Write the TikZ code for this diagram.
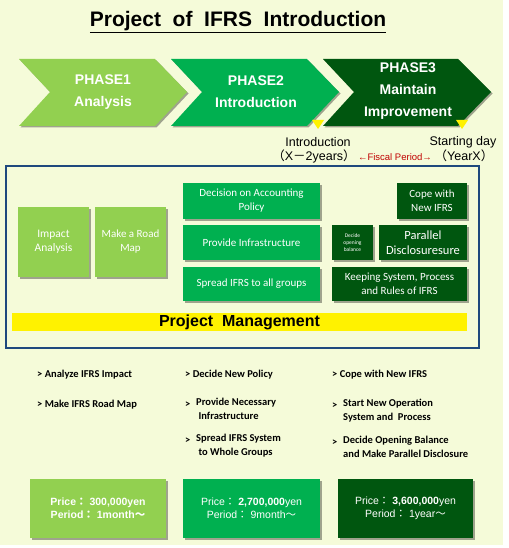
\documentclass[tikz,border=0pt]{standalone}
\usepackage{fontspec}
\setmainfont{Liberation Sans}
\newfontfamily\calfont{Carlito}
\newfontfamily\cjkfont{Noto Sans CJK JP}
\usetikzlibrary{shadows}
\definecolor{bg}{HTML}{F5FBD9}
\definecolor{lg}{HTML}{92D050}
\definecolor{mg}{HTML}{00B050}
\definecolor{dg}{HTML}{00560F}
\definecolor{fr}{HTML}{1F497D}
\definecolor{rd}{HTML}{C00000}
\tikzset{
  sh/.style={drop shadow={shadow xshift=1.5pt, shadow yshift=-1.5pt, fill=black, opacity=0.35}},
  chev/.style={draw=none, sh},
  ptxt/.style={text=white, font=\bfseries\fontsize{14}{22}\selectfont, align=center, inner sep=0},
  box/.style={sh, inner sep=1pt, align=center, text=white, font=\calfont\fontsize{11.5}{14}\selectfont},
  bul/.style={inner sep=0, anchor=west, font=\calfont\bfseries\fontsize{10.5}{14}\selectfont},
  btx/.style={inner sep=0, anchor=north west, align=left, font=\calfont\bfseries\fontsize{10.5}{14}\selectfont},
  lbl/.style={inner sep=0, font=\fontsize{12.5}{14}\selectfont},
  price/.style={sh, inner sep=0, align=center, text=white, font=\fontsize{10.5}{13}\selectfont},
  tri/.style={fill=yellow, draw=none}
}
\begin{document}
\begin{tikzpicture}[x=1pt,y=-1pt]
\useasboundingbox (0,0) rectangle (508,548);
\fill[white] (0,0) rectangle (508,548);
\fill[bg] (0,0) rectangle (503,545);
% title
\node[inner sep=0, font=\bfseries\fontsize{21}{24}\selectfont] (title) at (238,22) {\underline{Project\ \ of\ \ IFRS\ \ Introduction}};
% chevrons
\fill[lg, chev] (19,59) -- (155,59) -- (187,92) -- (155,126) -- (19,126) -- (50,92) -- cycle;
\fill[mg, chev] (171,59) -- (307,59) -- (339,92) -- (307,126) -- (171,126) -- (202,92) -- cycle;
\fill[dg, chev] (323,59) -- (458,59) -- (491,92) -- (458,126) -- (323,126) -- (354,92) -- cycle;
\node[ptxt] (p1) at (103,92) {PHASE1\\Analysis};
\node[ptxt] (p2) at (256,92) {PHASE2\\Introduction};
\node[ptxt] (p3) at (408,91) {PHASE3\\Maintain\\Improvement};
% yellow markers
\fill[tri] (312,120) -- (324,120) -- (318,129) -- cycle;
\fill[tri] (456,120) -- (468,120) -- (462,129) -- cycle;
\node[lbl] (intro) at (318,142) {Introduction};
\node[lbl] (introx) at (314,156) {{\cjkfont （}X{\cjkfont －}2years{\cjkfont ）}};
\node[lbl] (start) at (463,142) {Starting\ day};
\node[lbl] (startx) at (464,156) {{\cjkfont （}YearX{\cjkfont ）}};
\node[inner sep=0, text=rd, font=\fontsize{9.5}{11}\selectfont] (fiscal) at (395,157) {←Fiscal Period→};
% frame
\draw[fr, line width=1.6pt] (6,166) rectangle (479,348);
% boxes
\node[box, fill=lg, minimum width=71pt, minimum height=70pt] (impact) at (53.5,242) {Impact\\Analysis};
\node[box, fill=lg, minimum width=71pt, minimum height=70pt, font=\calfont\fontsize{11}{14}\selectfont] (road) at (130.5,242) {Make a Road\\Map};
\node[box, fill=mg, minimum width=137pt, minimum height=36pt, font=\calfont\fontsize{11}{14}\selectfont] (decision) at (251.5,201) {Decision on Accounting\\Policy};
\node[box, fill=mg, minimum width=137pt, minimum height=35pt, font=\calfont\fontsize{11}{14}\selectfont] (infra) at (251.5,242.5) {Provide Infrastructure};
\node[box, fill=mg, minimum width=137pt, minimum height=34pt, font=\calfont\fontsize{11}{14}\selectfont] (spread) at (251.5,284) {Spread IFRS to all groups};
\node[box, fill=dg, minimum width=70pt, minimum height=36pt, font=\calfont\fontsize{11}{14}\selectfont] (cope) at (432,201) {Cope with\\New\ IFRS};
\node[box, fill=dg, minimum width=41pt, minimum height=35pt, font=\calfont\fontsize{5.5}{7}\selectfont] (open) at (352.5,242.5) {Decide\\opening\\balance};
\node[box, fill=dg, minimum width=88pt, minimum height=35pt, font=\calfont\fontsize{12.5}{14.5}\selectfont] (parallel) at (423,242.5) {Parallel\\Disclosuresure};
\node[box, fill=dg, minimum width=135pt, minimum height=34pt, font=\calfont\fontsize{11}{14}\selectfont] (keep) at (399.5,284) {Keeping System, Process\\and Rules of IFRS};
\node[fill=yellow, minimum width=455pt, minimum height=18pt, inner sep=0, font=\bfseries\fontsize{16}{18}\selectfont] (pm) at (239.5,322) {Project\ \ Management};
% bullets column 1
\node[bul] (a1) at (37,375) {>\ Analyze IFRS Impact};
\node[bul] (a2) at (37,405) {>\ Make IFRS Road Map};
% column 2
\node[bul] (b1) at (185,375) {>\ Decide New Policy};
\node[bul] (b2g) at (185,405) {>};
\node[btx] (b2) at (196,398) {Provide Necessary\\\ Infrastructure};
\node[bul] (b3g) at (185,441) {>};
\node[btx] (b3) at (196,434) {Spread IFRS System\\\ to Whole Groups};
% column 3
\node[bul] (c1) at (332,375) {>\ Cope with New IFRS};
\node[bul] (c2g) at (332,406) {>};
\node[btx] (c2) at (343,399) {Start New Operation\\System and\ \ Process};
\node[bul] (c3g) at (332,443) {>};
\node[btx] (c3) at (343,436) {Decide Opening Balance\\and Make Parallel Disclosure};
% price boxes
\node[price, fill=lg, minimum width=136pt, minimum height=59pt, font=\bfseries\fontsize{10.5}{13}\selectfont] (pr1) at (98,508.5) {Price{\cjkfont ：}\ 300,000yen\\Period{\cjkfont ：}\ 1month{\cjkfont ～}};
\node[price, fill=mg, minimum width=137pt, minimum height=59pt] (pr2) at (251.5,508.5) {Price{\cjkfont ：}\ \textbf{2,700,000}yen\\Period{\cjkfont ：}\ 9month{\cjkfont ～}};
\node[price, fill=dg, minimum width=135pt, minimum height=59pt] (pr3) at (405.5,508.5) {Price{\cjkfont ：}\ \textbf{3,600,000}yen\\Period{\cjkfont ：}\ 1year{\cjkfont ～}};
\end{tikzpicture}
\end{document}
